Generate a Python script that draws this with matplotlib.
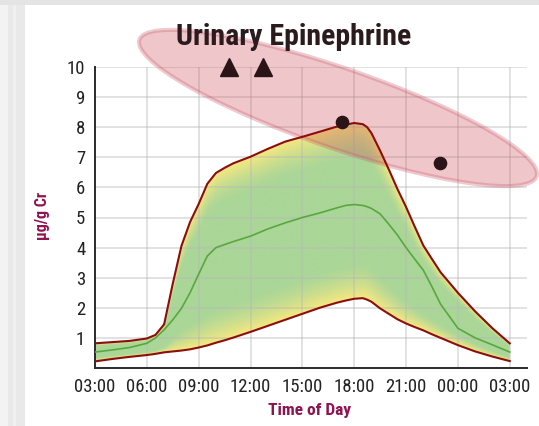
import numpy as np
import matplotlib
matplotlib.use("Agg")
import matplotlib.pyplot as plt
from matplotlib import font_manager
from matplotlib.patches import Ellipse, Rectangle
from matplotlib.patheffects import AbstractPathEffect
from matplotlib.transforms import IdentityTransform, Affine2D

# ---- data -------------------------------------------------------------
hours = [3, 4, 5, 6, 6.5, 7, 7.5, 8, 8.5, 9, 9.5, 10, 10.5, 11, 12, 13, 14,
         15, 16, 17, 17.5, 18, 18.5, 18.75, 19, 19.5, 20, 20.5, 21, 21.5, 22,
         22.5, 23, 24, 25, 26, 27]
upper = [0.82, 0.86, 0.90, 0.98, 1.10, 1.45, 2.80, 4.05, 4.85, 5.45, 6.12,
         6.48, 6.65, 6.80, 7.02, 7.28, 7.52, 7.68, 7.85, 8.02, 8.08, 8.14,
         8.10, 8.00, 7.80, 7.22, 6.60, 5.95, 5.35, 4.70, 4.07, 3.62, 3.18,
         2.50, 1.88, 1.32, 0.82]
median = [0.53, 0.60, 0.68, 0.82, 1.00, 1.27, 1.60, 1.98, 2.50, 3.12, 3.72,
          4.00, 4.10, 4.20, 4.38, 4.62, 4.82, 5.00, 5.15, 5.32, 5.40, 5.43,
          5.40, 5.36, 5.30, 5.12, 4.78, 4.42, 4.00, 3.62, 3.25, 2.70, 2.12,
          1.32, 1.00, 0.77, 0.53]
lower = [0.22, 0.30, 0.37, 0.43, 0.47, 0.52, 0.55, 0.58, 0.62, 0.68, 0.75,
         0.84, 0.92, 1.01, 1.20, 1.40, 1.60, 1.80, 2.00, 2.17, 2.24, 2.30,
         2.32, 2.27, 2.20, 1.98, 1.80, 1.62, 1.48, 1.36, 1.25, 1.12, 1.00,
         0.76, 0.55, 0.38, 0.23]

offscale_hours = [10.75, 12.7]       # results above the plotted range
offscale_level = [10, 10]
sample_hours = [17.28, 22.94]
sample_values = [8.17, 6.82]

x_ticks = [3, 6, 9, 12, 15, 18, 21, 24, 27]
x_labels = ["03:00", "06:00", "09:00", "12:00", "15:00", "18:00", "21:00",
            "00:00", "03:00"]
y_ticks = [1, 2, 3, 4, 5, 6, 7, 8, 9, 10]

# ---- fonts ------------------------------------------------------------
W, H, DPI = 539, 426, 100
names = {f.name for f in font_manager.fontManager.ttflist}
family = None
for cand in ("Liberation Sans Narrow", "Roboto Condensed", "Open Sans Condensed",
             "Arial Narrow"):
    if cand in names:
        family = cand
        break
NARROW = family is not None
if family is None:
    family = "Liberation Sans"
plt.rcParams["font.family"] = [family, "DejaVu Sans"]


class Condense(AbstractPathEffect):
    """Squeeze a text along its reading direction."""

    def __init__(self, factor, anchor="center", vertical=False):
        super().__init__()
        self.factor = factor
        self.anchor = anchor
        self.vertical = vertical

    def draw_path(self, renderer, gc, tpath, affine, rgbFace=None):
        ext = tpath.get_extents(affine)
        if self.vertical:
            c = 0.5 * (ext.y0 + ext.y1)
            squeeze = Affine2D().translate(0, -c).scale(1, self.factor).translate(0, c)
        else:
            if self.anchor == "right":
                c = ext.x1
            else:
                c = 0.5 * (ext.x0 + ext.x1)
            squeeze = Affine2D().translate(-c, 0).scale(self.factor, 1).translate(c, 0)
        renderer.draw_path(gc, tpath, affine + squeeze, rgbFace)


def squeeze(factor, **kw):
    return [] if NARROW else [Condense(factor, **kw)]


RED = "#8c0d0d"
GREEN_LINE = "#58a83e"
INK = "#2b1418"
LABEL = "#8e1450"
green = np.array([170, 214, 152]) / 255.0
yellow = np.array([247, 232, 128]) / 255.0

fig = plt.figure(figsize=(W / DPI, H / DPI), dpi=DPI)
fig.patch.set_facecolor("white")
px = IdentityTransform()

# page frame strips on the left and top
fig.add_artist(Rectangle((0, 0), 8, H, transform=px, color="#f3f3f3", lw=0, zorder=0))
fig.add_artist(Rectangle((8, 0), 17, H, transform=px, color="#e9e9e9", lw=0, zorder=0))
fig.add_artist(Rectangle((13, 0), 3, H, transform=px, color="#f0f0f0", lw=0, zorder=0))
fig.add_artist(Rectangle((0, H - 5), W, 5, transform=px, color="#e4e4e4", lw=0, zorder=0))

ax = fig.add_axes([95 / W, 1 - 368 / H, (527 - 95) / W, (368 - 67) / H])
ax.set_facecolor("none")

# gradient band: yellow near the limits, green towards the middle
xs = np.linspace(3, 27, 961)
ys = np.linspace(0, 10, 601)
up = np.interp(xs, hours, upper)
lo = np.interp(xs, hours, lower)
Y = ys[:, None]
t = (Y - lo) / (up - lo)
edge = np.clip(np.minimum(t, 1 - t), 0, 1)
w = np.clip(1 - edge / 0.21, 0, 1) ** 1.5
rgb = green * (1 - w)[..., None] + yellow * w[..., None]
img = ax.imshow(rgb, extent=[3, 27, 0, 10], origin="lower", aspect="auto",
                interpolation="bilinear", zorder=1)
band = ax.fill_between(hours, lower, upper, facecolor="none", edgecolor="none")
img.set_clip_path(band.get_paths()[0], ax.transData)

# grid
for yv in y_ticks:
    ax.axhline(yv, color="#b8b8b8", alpha=0.42, lw=1.4, zorder=1.5)
for xv in x_ticks:
    ax.axvline(xv, color="#b8b8b8", alpha=0.42, lw=1.4, zorder=1.5)

# highlighted cluster of samples
ax.add_patch(Ellipse((338, H - 108), width=420, height=80, angle=-19,
                     transform=px, facecolor="#c8404f", alpha=0.29,
                     edgecolor="none", clip_on=False, zorder=2))
ax.add_patch(Ellipse((338, H - 108), width=420, height=80, angle=-19,
                     transform=px, facecolor="none", edgecolor="#c95565",
                     alpha=0.30, lw=3.0, clip_on=False, zorder=2.1))

# reference curves
ax.plot(hours, upper, color=RED, lw=1.5, zorder=3)
ax.plot(hours, lower, color=RED, lw=1.5, zorder=3)
ax.plot(hours, median, color=GREEN_LINE, lw=1.2, zorder=3)

# samples
ax.plot(offscale_hours, offscale_level, "^", ms=12.5, color=INK,
        clip_on=False, zorder=5)
ax.plot(sample_hours, sample_values, "o", ms=8.8, color=INK, zorder=5)

ax.set_xlim(3, 28)
ax.set_ylim(0, 10)
ax.set_xticks(x_ticks)
ax.set_xticklabels(x_labels)
ax.set_yticks(y_ticks)
ax.tick_params(length=0, labelsize=13.5, labelcolor="#222222")
ax.tick_params(axis="x", pad=7)
ax.tick_params(axis="y", pad=7)
for lab in ax.get_xticklabels():
    lab.set_path_effects(squeeze(0.9))
for lab in ax.get_yticklabels():
    lab.set_path_effects(squeeze(0.9, anchor="right"))
for side in ("top", "right"):
    ax.spines[side].set_visible(False)
for side in ("left", "bottom"):
    ax.spines[side].set_color("#2a2a2a")
    ax.spines[side].set_linewidth(1.4)

fig.text(294, H - 45, "Urinary Epinephrine", transform=px, ha="center",
         va="baseline", fontsize=21.5, fontweight="bold", color="#2b1a1e",
         path_effects=squeeze(0.87))
fig.text(42, H - 216, "µg/g Cr", transform=px, rotation=90, ha="center",
         va="center", fontsize=11.5, fontweight="bold", color=LABEL,
         path_effects=squeeze(0.85, vertical=True))
fig.text(310, H - 415, "Time of Day", transform=px, ha="center",
         va="baseline", fontsize=12.5, fontweight="bold", color=LABEL,
         path_effects=squeeze(0.85))

fig.savefig("out.png", dpi=DPI)
